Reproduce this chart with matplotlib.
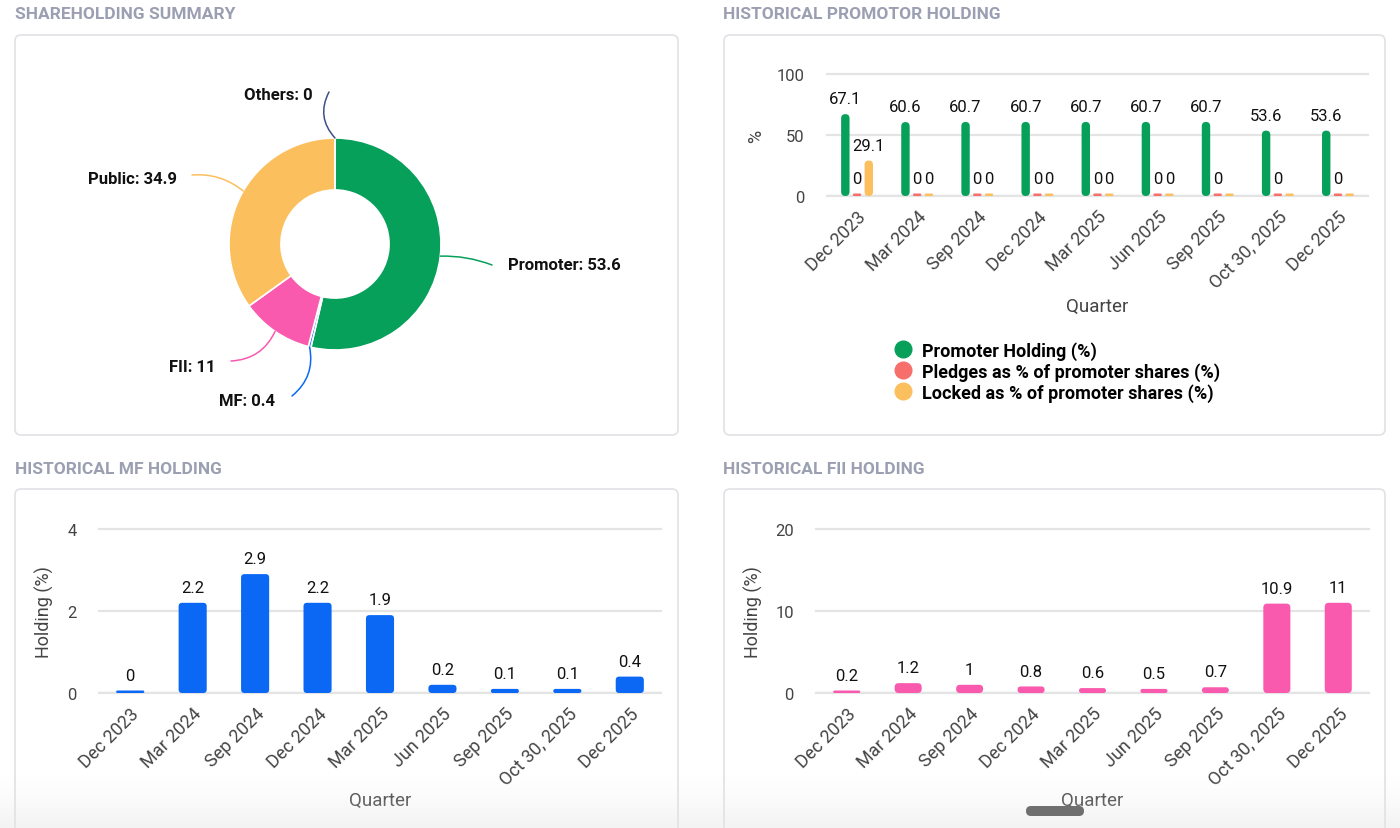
import matplotlib
matplotlib.use('Agg')
import matplotlib.pyplot as plt
import numpy as np
from matplotlib.patches import FancyBboxPatch, BoxStyle
from matplotlib.lines import Line2D

plt.rcParams['font.family'] = ['Roboto', 'DejaVu Sans']

W, H = 1400, 829

# ---------------- data ----------------
pie_labels = ['Promoter', 'MF', 'FII', 'Public', 'Others']
pie_values = [53.6, 0.4, 11, 34.9, 0]

quarters = ['Dec 2023', 'Mar 2024', 'Sep 2024', 'Dec 2024', 'Mar 2025',
            'Jun 2025', 'Sep 2025', 'Oct 30, 2025', 'Dec 2025']
promoter_holding = [67.1, 60.6, 60.7, 60.7, 60.7, 60.7, 60.7, 53.6, 53.6]
pledges = [0, 0, 0, 0, 0, 0, 0, 0, 0]
locked = [29.1, 0, 0, 0, 0, 0, None, None, None]
mf_holding = [0, 2.2, 2.9, 2.2, 1.9, 0.2, 0.1, 0.1, 0.4]
fii_holding = [0.2, 1.2, 1, 0.8, 0.6, 0.5, 0.7, 10.9, 11]

legend_labels = ['Promoter Holding (%)', 'Pledges as % of promoter shares (%)',
                 'Locked as % of promoter shares (%)']

# ---------------- style ----------------
GREEN = '#07a05a'
BLUE = '#0a68f5'
PINK = '#f95aae'
YELLOW = '#fcbf5e'
NAVY = '#3f4f86'
RED = '#f66f6a'
pie_colors = [GREEN, BLUE, PINK, YELLOW, NAVY]
TITLE_C = '#9b9fb2'
TICK_C = '#444444'

fig = plt.figure(figsize=(W / 100, H / 100), dpi=100)
fig.patch.set_facecolor('white')


def px_axes(x0, y0, x1, y1, **kw):
    return fig.add_axes([x0 / W, 1 - y1 / H, (x1 - x0) / W, (y1 - y0) / H], **kw)


def fmt(v):
    s = f"{v:.1f}"
    return s[:-2] if s.endswith('.0') else s


# background panels
bg = fig.add_axes([0, 0, 1, 1], zorder=-10)
bg.set_xlim(0, W)
bg.set_ylim(H, 0)
bg.axis('off')
for (x0, y0, x1, y1) in [(15, 36, 678, 436), (724, 36, 1385, 436),
                         (15, 490, 678, 860), (724, 490, 1385, 860)]:
    bg.add_patch(FancyBboxPatch((x0, y0), x1 - x0, y1 - y0,
                                boxstyle='round,pad=0,rounding_size=6',
                                fc='white', ec='#e2e2e6', lw=1.2))
for (x, y, t) in [(15, 14, 'SHAREHOLDING SUMMARY'), (723, 14, 'HISTORICAL PROMOTOR HOLDING'),
                  (15, 469, 'HISTORICAL MF HOLDING'), (723, 469, 'HISTORICAL FII HOLDING')]:
    bg.text(x, y, t, fontsize=12.5, weight='bold', color=TITLE_C, va='center', ha='left')

# ---------------- donut ----------------
CX, CY, R = 335, 245, 106
pax = px_axes(15, 36, 678, 436)
wedges, _ = pax.pie(pie_values, colors=pie_colors, startangle=90, counterclock=False,
                    radius=1, wedgeprops=dict(width=0.49, edgecolor='white', linewidth=1.2))
pax.set_xlim((15 - CX) / R, (678 - CX) / R)
pax.set_ylim((CY - 436) / R, (CY - 36) / R)
pax.set_aspect('auto')
pax.axis('off')


def p2d(px, py):
    return ((px - CX) / R, (CY - py) / R)


layout = {
    'Promoter': dict(end=(492, 266), text=(508, 265), ha='left', rad=0.1),
    'MF': dict(end=(292, 397), text=(275, 402), ha='right', rad=0.3),
    'FII': dict(end=(231, 362), text=(215, 367), ha='right', rad=0.3),
    'Public': dict(end=(192, 176), text=(177, 179), ha='right', rad=-0.2, angle=150),
    'Others': dict(end=(329, 93), text=(313, 96), ha='right', rad=0.35),
}
for w, lab, val, col in zip(wedges, pie_labels, pie_values, pie_colors):
    L = layout[lab]
    ang = L.get('angle', (w.theta1 + w.theta2) / 2)
    start = (np.cos(np.radians(ang)), np.sin(np.radians(ang)))
    pax.annotate('', xy=start, xytext=p2d(*L['end']),
                 arrowprops=dict(arrowstyle='-', color=col, lw=1.1,
                                 shrinkA=0, shrinkB=0,
                                 connectionstyle=f"arc3,rad={L['rad']}"),
                 annotation_clip=False)
    pax.text(*p2d(*L['text']), f"{lab}: {fmt(val)}", ha=L['ha'], va='center',
             fontsize=12, weight='bold', color='#111111')


# ---------------- bar helpers ----------------
def setup_bar_axes(ax, yticks, ylabel, ylab_x, xlab_y):
    ax.set_xlim(-0.5, len(quarters) - 0.5)
    ax.set_ylim(0, yticks[-1])
    for s in ax.spines.values():
        s.set_visible(False)
    ax.set_yticks(yticks)
    ax.set_yticklabels([str(t) for t in yticks])
    ax.yaxis.grid(True, color='#e4e4e4', lw=1.6)
    for gl in ax.get_ygridlines():
        gl.set_clip_on(False)
    ax.set_axisbelow(True)
    ax.axhline(0, color='#c7cce0', lw=1.6, zorder=0.5)
    ax.tick_params(axis='y', length=0, pad=16, labelsize=12, labelcolor=TICK_C)
    ax.tick_params(axis='x', length=0, pad=8)
    ax.set_xticks(range(len(quarters)))
    ax.set_xticklabels(quarters, rotation=45, ha='right', va='top',
                       rotation_mode='anchor', fontsize=13, color=TICK_C)
    ax.set_ylabel(ylabel, fontsize=13, color=TICK_C)
    ax.yaxis.set_label_coords(ylab_x, 0.5)
    ax.set_xlabel('Quarter', fontsize=13.5, color=TICK_C)
    ax.xaxis.set_label_coords(0.5, xlab_y)
    ax.set_facecolor('none')


def rounded_bars(ax, x, heights, width, color, r_px, min_px=2.5):
    pos = ax.get_position()
    x0, x1 = ax.get_xlim()
    y0, y1 = ax.get_ylim()
    ppx = pos.width * W / (x1 - x0)
    ppy = pos.height * H / (y1 - y0)
    disp = [max(h if h is not None else 0, min_px / ppy) for h in heights]
    bars = ax.bar(x, disp, width, color=color)
    for b in bars:
        bx, by, bw, bh = b.get_x(), b.get_y(), b.get_width(), b.get_height()
        r = min(r_px, bw * ppx / 2, bh * ppy / 2)
        p = FancyBboxPatch((bx, by), bw, bh,
                           boxstyle=BoxStyle.Round(pad=0, rounding_size=r / ppx),
                           mutation_aspect=ppx / ppy, fc=color, ec='none', zorder=2)
        ax.add_patch(p)
        b.remove()
    return disp


def bar_labels(ax, x, heights, disp):
    for xi, h, d in zip(x, heights, disp):
        if h is None:
            continue
        ax.annotate(fmt(h), (xi, d), xytext=(0, 11), textcoords='offset points',
                    ha='center', va='center', fontsize=12, color='#111111',
                    annotation_clip=False)


xs = np.arange(len(quarters))

# ---------------- promoter ----------------
ax1 = px_axes(827, 75, 1368, 197)
setup_bar_axes(ax1, [0, 50, 100], '%', -0.115, -0.83)
off = 0.195
bw = 0.14
d1 = rounded_bars(ax1, xs - off, promoter_holding, bw, GREEN, 4.5)
d2 = rounded_bars(ax1, xs, pledges, bw, RED, 4.5)
d3 = rounded_bars(ax1, xs + off, locked, bw, YELLOW, 4.5)
bar_labels(ax1, xs - off, promoter_holding, d1)
bar_labels(ax1, xs, pledges, d2)
bar_labels(ax1, xs + off, locked, d3)
handles = [Line2D([], [], marker='o', ls='', ms=12, color=c) for c in (GREEN, RED, YELLOW)]
ax1.legend(handles, legend_labels, loc='upper left',
           bbox_to_anchor=(894 / W, 1 - 342 / H), bbox_transform=fig.transFigure,
           frameon=False, handlelength=0.95, handletextpad=0.6, labelspacing=0.12,
           borderpad=0, borderaxespad=0, prop={'weight': 'bold', 'size': 13})

# ---------------- MF ----------------
ax2 = px_axes(99, 530, 661, 694)
setup_bar_axes(ax2, [0, 2, 4], 'Holding (%)', -0.08, -0.6)
d = rounded_bars(ax2, xs, mf_holding, 0.45, BLUE, 3.5)
bar_labels(ax2, xs, mf_holding, d)

# ---------------- FII ----------------
ax3 = px_axes(816, 530, 1369, 694)
setup_bar_axes(ax3, [0, 10, 20], 'Holding (%)', -0.095, -0.6)
d = rounded_bars(ax3, xs, fii_holding, 0.44, PINK, 4)
bar_labels(ax3, xs, fii_holding, d)

# ---------------- bottom overlay ----------------
ov = fig.add_axes([0, 0, 1, 1], zorder=100)
ov.set_xlim(0, W)
ov.set_ylim(H, 0)
ov.axis('off')
n = 60
grad = np.zeros((n, 1, 4))
grad[:, 0, :3] = 0.9
grad[:, 0, 3] = np.linspace(0, 0.55, n) ** 1.3
ov.imshow(grad, extent=(0, W, H, 775), aspect='auto', interpolation='bilinear')
ov.set_xlim(0, W)
ov.set_ylim(H, 0)
ov.add_patch(FancyBboxPatch((1026, 807), 58, 10, boxstyle='round,pad=0,rounding_size=5',
                            fc='#6f6f6f', ec='none'))

fig.savefig('out.png', dpi=100)
